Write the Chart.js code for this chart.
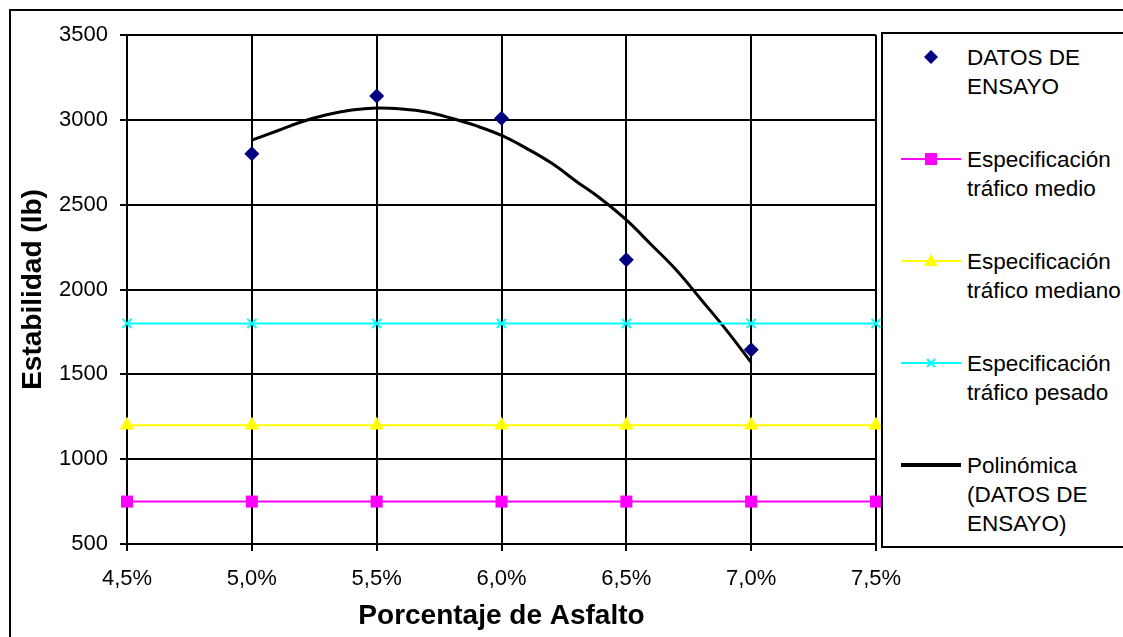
<!DOCTYPE html>
<html>
<head>
<meta charset="utf-8">
<script src="https://cdn.jsdelivr.net/npm/chart.js@4.4.0/dist/chart.umd.min.js"></script>
<style>
  html, body { margin: 0; padding: 0; background: #fff; overflow: hidden; }
  body { width: 1123px; height: 637px; position: relative; font-family: "Liberation Sans", Arial, sans-serif; }
  #frame { position: absolute; left: 9px; top: 9px; width: 1200px; height: 700px; border: 2px solid #000; box-sizing: border-box; }
  #chart { position: absolute; left: 0; top: 0; }
  #legendBox { position: absolute; left: 881px; top: 32px; width: 300px; height: 516px; border: 2px solid #000; box-sizing: border-box; background: #fff; }
  .lg-sym { position: absolute; left: 898px; }
  .lg-text { position: absolute; left: 967px; font-size: 22.5px; line-height: 29px; color: #000; white-space: nowrap; }
</style>
</head>
<body>
<div id="frame"></div>
<canvas id="chart" width="1123" height="637"></canvas>
<div id="legendBox"></div>
<div id="legend"></div>
<script>
// Marshall test: stability vs asphalt content
const asfalto = [5.0, 5.5, 6.0, 6.5, 7.0];
const estabilidad = [2800, 3140, 3010, 2175, 1645];

const especX = [4.5, 5.0, 5.5, 6.0, 6.5, 7.0, 7.5];
const traficoMedio = [750, 750, 750, 750, 750, 750, 750];
const traficoMediano = [1200, 1200, 1200, 1200, 1200, 1200, 1200];
const traficoPesado = [1800, 1800, 1800, 1800, 1800, 1800, 1800];

// trend line
const polX = [5.0, 5.1, 5.2, 5.3, 5.4, 5.5, 5.6, 5.7, 5.8, 5.9, 6.0,
              6.1, 6.2, 6.3, 6.4, 6.5, 6.6, 6.7, 6.8, 6.9, 7.0];
const polY = [2880, 2934, 2989, 3030, 3058, 3070, 3064, 3046, 3009, 2964, 2908,
              2832, 2745, 2637, 2532, 2410, 2264, 2115, 1940, 1762, 1570];

const legendLabels = [
  ['DATOS DE', 'ENSAYO'],
  ['Especificación', 'tráfico medio'],
  ['Especificación', 'tráfico mediano'],
  ['Especificación', 'tráfico pesado'],
  ['Polinómica', '(DATOS DE', 'ENSAYO)']
];

const FONT = '"Liberation Sans", Arial, sans-serif';

const toPoints = (xs, ys) => xs.map((x, i) => ({ x: x, y: ys[i] }));

const datasets = [
  {
    label: legendLabels[0].join(' '),
    data: toPoints(asfalto, estabilidad),
    showLine: false,
    pointStyle: 'rectRot',
    pointRadius: 7.5,
    backgroundColor: '#000080',
    borderColor: '#000080',
    borderWidth: 0,
    clip: false
  },
  {
    label: legendLabels[1].join(' '),
    data: toPoints(especX, traficoMedio),
    showLine: true,
    borderColor: '#FF00FF',
    borderWidth: 2,
    pointStyle: 'rect',
    pointRadius: 8.5,
    pointBackgroundColor: '#FF00FF',
    pointBorderWidth: 0,
    clip: false
  },
  {
    label: legendLabels[2].join(' '),
    data: toPoints(especX, traficoMediano),
    showLine: true,
    borderColor: '#FFFF00',
    borderWidth: 2,
    pointStyle: 'triangle',
    pointRadius: 8.5,
    pointBackgroundColor: '#FFFF00',
    pointBorderWidth: 0,
    clip: false
  },
  {
    label: legendLabels[3].join(' '),
    data: toPoints(especX, traficoPesado),
    showLine: true,
    borderColor: '#00FFFF',
    borderWidth: 2,
    pointStyle: 'crossRot',
    pointRadius: 6.5,
    pointBorderColor: '#00FFFF',
    pointBorderWidth: 2,
    clip: false
  },
  {
    label: legendLabels[4].join(' '),
    data: toPoints(polX, polY),
    showLine: true,
    borderColor: '#000000',
    borderWidth: 3,
    pointRadius: 0,
    tension: 0.4,
    clip: false
  }
];

const fmtPct = v => v.toFixed(1).replace('.', ',') + '%';

new Chart(document.getElementById('chart'), {
  type: 'scatter',
  data: { datasets: datasets },
  options: {
    responsive: false,
    animation: false,
    layout: { padding: { left: 10, top: 35, right: 247, bottom: 0 } },
    plugins: {
      legend: { display: false },
      tooltip: { enabled: false }
    },
    scales: {
      x: {
        type: 'linear',
        min: 4.5,
        max: 7.5,
        afterFit: s => { s.height = 93; },
        ticks: {
          stepSize: 0.5,
          autoSkip: false,
          maxRotation: 0,
          padding: 15,
          color: '#000',
          font: { family: FONT, size: 22 },
          callback: v => fmtPct(v)
        },
        grid: { color: '#000', lineWidth: 2, tickLength: 7, tickColor: '#000' },
        border: { color: '#000', width: 2 },
        title: {
          display: true,
          text: 'Porcentaje de Asfalto',
          color: '#000',
          font: { family: FONT, size: 28, weight: 'bold' },
          padding: { top: 0, bottom: 4 }
        }
      },
      y: {
        min: 500,
        max: 3500,
        afterFit: s => { s.width = 117; },
        ticks: {
          stepSize: 500,
          padding: 12,
          color: '#000',
          font: { family: FONT, size: 22 },
          callback: v => String(v)
        },
        grid: { color: '#000', lineWidth: 2, tickLength: 7, tickColor: '#000' },
        border: { color: '#000', width: 2 },
        title: {
          display: true,
          text: 'Estabilidad (lb)',
          color: '#000',
          font: { family: FONT, size: 28, weight: 'bold' },
          padding: { top: 6, bottom: 0 }
        }
      }
    }
  }
});

// legend drawn as html next to the chart
const legendEl = document.getElementById('legend');
const symbols = [
  '<polygon points="33,3 40,10 33,17 26,10" fill="#000080"/>',
  '<line x1="3" y1="10" x2="63" y2="10" stroke="#FF00FF" stroke-width="2"/><rect x="27" y="4" width="12" height="12" fill="#FF00FF"/>',
  '<line x1="3" y1="10" x2="63" y2="10" stroke="#FFFF00" stroke-width="2"/><polygon points="33,3 40,15 26,15" fill="#FFFF00"/>',
  '<line x1="3" y1="10" x2="63" y2="10" stroke="#00FFFF" stroke-width="2"/><path d="M29,6 L37,14 M37,6 L29,14" stroke="#00FFFF" stroke-width="2"/>',
  '<line x1="3" y1="10" x2="63" y2="10" stroke="#000" stroke-width="4"/>'
];
legendLabels.forEach((lines, i) => {
  const cy = 57 + i * 102;
  const sym = document.createElement('div');
  sym.className = 'lg-sym';
  sym.style.top = (cy - 10) + 'px';
  sym.innerHTML = '<svg width="66" height="20">' + symbols[i] + '</svg>';
  legendEl.appendChild(sym);
  const txt = document.createElement('div');
  txt.className = 'lg-text';
  txt.style.top = (cy - 14.5) + 'px';
  txt.innerHTML = lines.join('<br>');
  legendEl.appendChild(txt);
});
</script>
</body>
</html>
